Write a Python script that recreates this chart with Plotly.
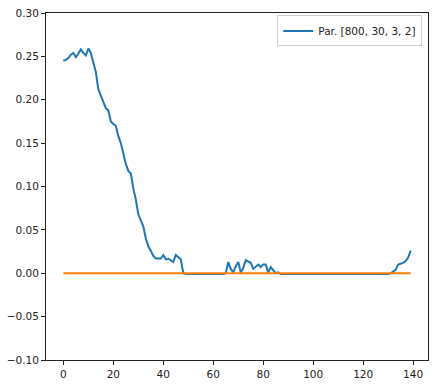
import plotly.graph_objects as go

# step index 0..139
steps = list(range(140))

par_800_30_3_2 = [
    0.245, 0.246, 0.248, 0.252, 0.254, 0.249, 0.253, 0.258, 0.254, 0.251,
    0.259, 0.254, 0.243, 0.232, 0.212, 0.204, 0.197, 0.190, 0.188, 0.175,
    0.172, 0.170, 0.158, 0.150, 0.138, 0.126, 0.118, 0.115, 0.098, 0.085,
    0.068, 0.060, 0.054, 0.040, 0.031, 0.026, 0.020, 0.017, 0.017, 0.017,
    0.021, 0.016, 0.017, 0.015, 0.013, 0.021, 0.019, 0.016, 0.000, -0.001,
    -0.001, -0.001, -0.001, -0.001, -0.001, -0.001, -0.001, -0.001, -0.001, -0.001,
    -0.001, -0.001, -0.001, -0.001, -0.001, 0.000, 0.013, 0.005, 0.001, 0.008,
    0.013, 0.001, 0.006, 0.015, 0.013, 0.012, 0.005, 0.008, 0.010, 0.007,
    0.010, 0.010, 0.001, 0.007, 0.004, 0.000, 0.001, -0.001, -0.001, -0.001,
    -0.001, -0.001, -0.001, -0.001, -0.001, -0.001, -0.001, -0.001, -0.001, -0.001,
    -0.001, -0.001, -0.001, -0.001, -0.001, -0.001, -0.001, -0.001, -0.001, -0.001,
    -0.001, -0.001, -0.001, -0.001, -0.001, -0.001, -0.001, -0.001, -0.001, -0.001,
    -0.001, -0.001, -0.001, -0.001, -0.001, -0.001, -0.001, -0.001, -0.001, -0.001,
    -0.001, 0.000, 0.002, 0.004, 0.010, 0.011, 0.012, 0.014, 0.018, 0.026,
]

baseline = [0.0] * len(steps)

x_ticks = [0, 20, 40, 60, 80, 100, 120, 140]
y_ticks = [-0.10, -0.05, 0.00, 0.05, 0.10, 0.15, 0.20, 0.25, 0.30]

fig = go.Figure()
fig.add_scatter(
    x=steps,
    y=par_800_30_3_2,
    mode="lines",
    name="Par. [800, 30, 3, 2]",
    line=dict(color="#1f77b4", width=2),
)
fig.add_scatter(
    x=steps,
    y=baseline,
    mode="lines",
    showlegend=False,
    line=dict(color="#ff7f0e", width=2),
)

axis_style = dict(
    showgrid=False,
    zeroline=False,
    showline=True,
    linecolor="#222",
    linewidth=1,
    mirror=True,
    ticks="outside",
    ticklen=4,
    tickcolor="#222",
    tickfont=dict(family="DejaVu Sans", size=10.5, color="#222"),
)

fig.update_layout(
    width=436,
    height=392,
    paper_bgcolor="white",
    plot_bgcolor="white",
    margin=dict(l=44, r=7, t=11, b=32),
    showlegend=True,
    legend=dict(
        x=0.985,
        y=0.993,
        xanchor="right",
        yanchor="top",
        bgcolor="white",
        bordercolor="#d0d0d0",
        borderwidth=1,
        font=dict(family="DejaVu Sans", size=10.5, color="#222"),
    ),
    xaxis=dict(range=[-6.95, 145.95], tickvals=x_ticks, **axis_style),
    yaxis=dict(range=[-0.1, 0.3], tickvals=y_ticks, tickformat=".2f", **axis_style),
)

fig.write_html(
    "out.html",
    config={"displayModeBar": False},
    post_script="document.body.style.margin='0';",
)
